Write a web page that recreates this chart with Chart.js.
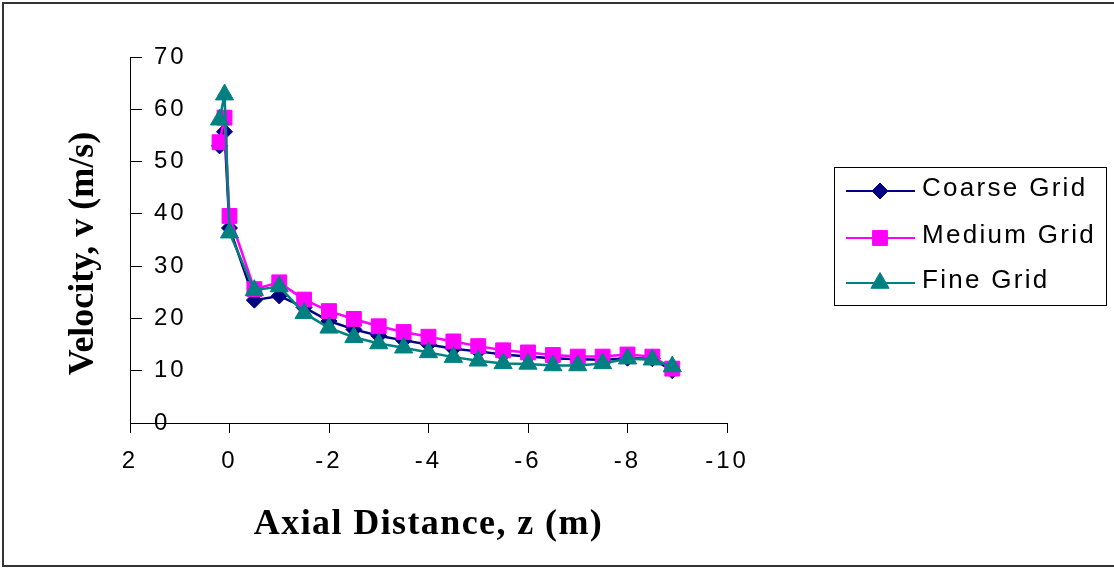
<!DOCTYPE html>
<html>
<head>
<meta charset="utf-8">
<title>Velocity vs axial distance</title>
<script src="https://cdn.jsdelivr.net/npm/chart.js@4.4.1/dist/chart.umd.min.js"></script>
<style>
  html, body { margin: 0; padding: 0; background: #fff; overflow: hidden; }
  #wrap { position: relative; width: 1114px; height: 571px; }
  #frame { position: absolute; left: 2px; top: 2px; width: 1140px; height: 565px;
           border: 2px solid #333; box-sizing: border-box; pointer-events: none; }
  #chart { position: absolute; left: 0; top: 0; }
</style>
</head>
<body>
<div id="wrap">
  <canvas id="chart" width="1114" height="571"></canvas>
  <div id="frame"></div>
</div>
<script>
// axial positions (m) shared by all three grids
const axialDistance = [0.2, 0.1, 0, -0.5, -1, -1.5, -2, -2.5, -3, -3.5, -4, -4.5, -5, -5.5, -6, -6.5, -7, -7.5, -8, -8.5, -8.9];

// velocity (m/s)
const coarseGrid = [53.0, 55.7, 37.3, 23.5, 24.3, 22.1, 19.5, 17.9, 16.7, 15.8, 15.0, 14.2, 13.7, 13.1, 12.7, 12.4, 12.2, 12.1, 12.4, 12.3, 10.0];
const mediumGrid = [53.7, 58.4, 39.6, 25.6, 26.9, 23.6, 21.4, 19.9, 18.5, 17.4, 16.5, 15.6, 14.7, 13.9, 13.5, 13.0, 12.7, 12.7, 13.1, 12.7, 10.4];
const fineGrid   = [58.0, 62.8, 36.4, 25.4, 26.1, 21.0, 18.2, 16.4, 15.2, 14.4, 13.5, 12.6, 11.9, 11.4, 11.3, 11.0, 11.0, 11.4, 12.3, 12.1, 10.8];

const seriesNames = ['Coarse Grid', 'Medium Grid', 'Fine Grid'];

// axis ranges / tick steps
const xRange = [-10, 2], xStep = 2;
const yRange = [0, 70], yStep = 10;

const SANS = '"Liberation Sans", Arial, sans-serif';
const SERIF = '"Liberation Serif", "Times New Roman", serif';

function toPoints(values) {
  return axialDistance.map((z, i) => ({ x: z, y: values[i] }));
}

function mkSeries(label, values, color, pointStyle, radius, order) {
  return {
    label,
    data: toPoints(values),
    showLine: true,
    borderColor: color,
    backgroundColor: color,
    borderWidth: 2.5,
    pointStyle,
    pointRadius: radius,
    pointBorderWidth: 1,
    pointBorderColor: color,
    pointBackgroundColor: color,
    tension: 0,
    order
  };
}

// wrap one of the scale's draw methods so its text gets extra letter spacing
function spaceText(scale, method, px) {
  const key = '_spaced_' + method;
  if (scale[key]) return;
  const orig = scale[method];
  scale[method] = function (area) {
    const c = this.ctx;
    const prev = c.letterSpacing;
    c.letterSpacing = px;
    orig.call(this, area);
    c.letterSpacing = prev;
  };
  scale[key] = true;
}

const letterSpacing = {
  id: 'letterSpacing',
  afterLayout(chart) {
    spaceText(chart.scales.x, 'drawLabels', '3px');
    spaceText(chart.scales.y, 'drawLabels', '3px');
    spaceText(chart.scales.x, 'drawTitle', '1.4px');
  }
};

// boxed legend on the right: line segment with the marker in the middle
const boxLegend = {
  id: 'boxLegend',
  afterDraw(chart) {
    const ctx = chart.ctx;
    const box = { left: 834.5, top: 167.5, width: 272, height: 138 };
    const rows = [191, 238, 283];
    ctx.save();
    ctx.strokeStyle = '#000';
    ctx.lineWidth = 1;
    ctx.strokeRect(box.left, box.top, box.width, box.height);
    chart.data.datasets.forEach((ds, i) => {
      const y = rows[i];
      ctx.strokeStyle = ds.borderColor;
      ctx.lineWidth = 2;
      ctx.beginPath();
      ctx.moveTo(846, y);
      ctx.lineTo(915, y);
      ctx.stroke();
      ctx.fillStyle = ds.pointBackgroundColor;
      ctx.strokeStyle = ds.pointBorderColor;
      ctx.lineWidth = 1;
      Chart.helpers.drawPoint(ctx, {
        pointStyle: ds.pointStyle,
        radius: ds.pointRadius,
        rotation: 0,
        borderWidth: 1
      }, 880, y);
      ctx.fillStyle = '#000';
      ctx.font = '26px ' + SANS;
      ctx.letterSpacing = '2.3px';
      ctx.textAlign = 'left';
      ctx.textBaseline = 'middle';
      ctx.fillText(ds.label, 922, y - 2);
    });
    ctx.restore();
  }
};

const ctx = document.getElementById('chart');

new Chart(ctx, {
  type: 'scatter',
  data: {
    datasets: [
      mkSeries(seriesNames[0], coarseGrid, '#000080', 'rectRot', 8, 3),
      mkSeries(seriesNames[1], mediumGrid, '#FF00FF', 'rect', 10.5, 2),
      mkSeries(seriesNames[2], fineGrid, '#008080', 'triangle', 10.5, 1)
    ]
  },
  options: {
    responsive: false,
    animation: false,
    devicePixelRatio: 1,
    layout: { padding: { left: 0, top: 57, right: 387, bottom: 0 } },
    plugins: {
      legend: { display: false },
      tooltip: { enabled: false },
      title: { display: false }
    },
    scales: {
      x: {
        type: 'linear',
        reverse: true,
        min: xRange[0],
        max: xRange[1],
        ticks: {
          stepSize: xStep,
          color: '#000',
          padding: 14,
          font: { family: SANS, size: 24 },
          maxRotation: 0
        },
        grid: { drawOnChartArea: false, drawTicks: true, tickLength: 10, color: '#000' },
        border: { color: '#000', width: 1 },
        title: {
          display: true,
          text: 'Axial Distance, z (m)',
          color: '#000',
          font: { family: SERIF, size: 36, weight: 'bold' },
          padding: { top: 0, bottom: 25 }
        },
        afterFit(scale) { scale.height = 148; }
      },
      y: {
        min: yRange[0],
        max: yRange[1],
        ticks: {
          stepSize: yStep,
          mirror: true,
          padding: 24,
          color: '#000',
          font: { family: SANS, size: 24 }
        },
        // negative length puts the tick marks inside the plot
        grid: { drawOnChartArea: false, drawTicks: true, tickLength: -12, color: '#000' },
        border: { color: '#000', width: 1 },
        title: {
          display: true,
          text: 'Velocity, v (m/s)   ',
          color: '#000',
          font: { family: SERIF, size: 36, weight: 'bold' },
          padding: { top: 62, bottom: 0 }
        },
        afterFit(scale) { scale.width = 130; }
      }
    }
  },
  plugins: [letterSpacing, boxLegend]
});
</script>
</body>
</html>
